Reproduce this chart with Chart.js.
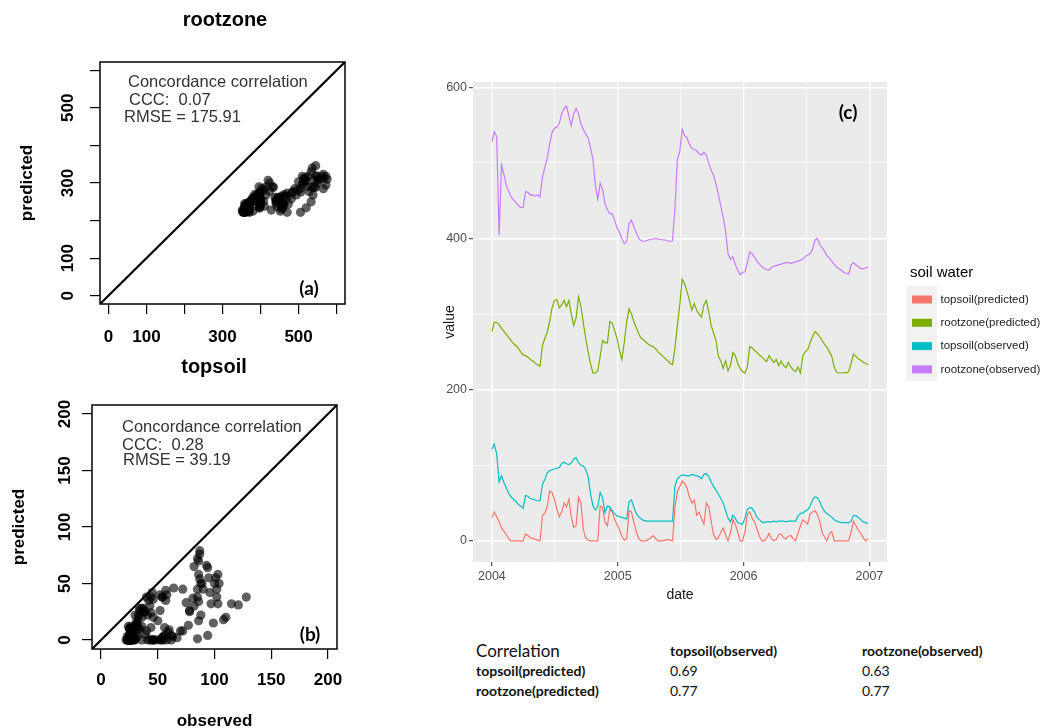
<!DOCTYPE html>
<html>
<head>
<meta charset="utf-8">
<script src="https://cdn.jsdelivr.net/npm/chart.js"></script>
<style>
  html, body { margin: 0; padding: 0; background: #fff; }
  body { width: 1054px; height: 728px; position: relative; overflow: hidden; }
  canvas { position: absolute; }
  #rootCanvas { left: 0; top: 0; }
  #topCanvas { left: 0; top: 345px; }
  #seriesCanvas { left: 440px; top: 60px; }
  #corrTable { position: absolute; left: 476px; top: 641px; border-collapse: collapse;
               font-family: Lato, "Open Sans", sans-serif; color: #111; }
  #corrTable td { padding: 0; height: 20px; line-height: 20px; font-size: 14px; white-space: nowrap; }
  #corrTable td:nth-child(1) { width: 194px; }
  #corrTable td:nth-child(2) { width: 192px; }
  #corrTable td.b { font-weight: bold; }
  #corrTable td.big { font-size: 17px; }
</style>
</head>
<body>
<canvas id="rootCanvas" width="450" height="350"></canvas>
<canvas id="topCanvas" width="429" height="390"></canvas>
<canvas id="seriesCanvas" width="614" height="550"></canvas>
<table id="corrTable"></table>
<script>
// weekly samples starting 2004-01-01
const sampleStart = Date.UTC(2004, 0, 1);
const sampleStepDays = 7;

const seriesNames = ['topsoil(predicted)', 'rootzone(predicted)', 'topsoil(observed)', 'rootzone(observed)'];

const topPredicted = [
  31, 38, 32, 25, 17, 13, 8, 3, 0, 0,
  0, 0, 0, 0, 9, 7, 4, 3, 2, 1,
  0, 33, 37, 45, 66, 64, 55, 42, 32, 38,
  50, 45, 55, 32, 18, 20, 58, 50, 15, 4,
  1, 0, 0, 0, 0, 46, 44, 25, 20, 42,
  38, 28, 22, 15, 6, 1, 3, 40, 38, 24,
  12, 3, 0, 0, 0, 2, 4, 7, 3, 0,
  0, 0, 1, 2, 1, 0, 45, 65, 72, 79,
  76, 70, 58, 50, 54, 34, 38, 30, 22, 50,
  45, 26, 8, 2, 4, 11, 17, 8, 0, 10,
  28, 22, 12, 0, 0, 12, 35, 38, 30, 25,
  16, 6, 0, 0, 4, 10, 3, 0, 2, 8,
  9, 4, 3, 6, 7, 3, 0, 10, 20, 28,
  25, 22, 36, 38, 40, 35, 26, 11, 5, 0,
  10, 12, 0, 0, 0, 0, 0, 0, 0, 12,
  26, 20, 14, 10, 4, 0, 3
];
const rootPredicted = [
  277, 289, 289, 286, 281, 277, 273, 269, 265, 261,
  258, 255, 250, 246, 245, 243, 240, 238, 235, 233,
  231, 258, 268, 276, 290, 308, 318, 319, 308, 312,
  318, 310, 318, 300, 285, 295, 323, 310, 288, 268,
  250, 234, 222, 222, 225, 244, 265, 262, 262, 290,
  288, 278, 268, 252, 240, 262, 290, 307, 300, 290,
  282, 274, 268, 266, 263, 260, 258, 257, 254, 250,
  247, 244, 241, 238, 235, 233, 255, 285, 312, 346,
  340, 330, 318, 305, 314, 305, 300, 296, 312, 318,
  303, 285, 275, 265, 244, 238, 228, 238, 225, 232,
  249, 245, 235, 228, 224, 222, 230, 257, 255, 252,
  249, 246, 243, 240, 237, 245, 240, 236, 240, 232,
  238, 232, 229, 236, 230, 226, 224, 230, 222, 245,
  250, 253, 262, 270, 277, 274, 270, 265, 260, 256,
  250, 244, 230, 223, 222, 222, 223, 222, 224, 235,
  247, 244, 241, 239, 236, 235, 233
];
const topObserved = [
  121, 128, 115, 78, 86, 77, 70, 63, 58, 55,
  52, 48, 46, 43, 60, 59, 56, 55, 54, 53,
  53, 75, 81, 90, 93, 94, 95, 96, 97, 102,
  104, 102, 101, 103, 108, 110, 103, 100, 99, 94,
  85, 62, 46, 41, 45, 64, 57, 37, 46, 45,
  40, 36, 33, 32, 31, 30, 29, 52, 54, 44,
  36, 32, 29, 27, 26, 26, 26, 26, 26, 26,
  26, 26, 26, 26, 26, 26, 72, 82, 85, 87,
  87, 86, 86, 88, 87, 86, 85, 82, 88, 89,
  85, 78, 72, 67, 62, 56, 50, 40, 30, 25,
  34, 30, 24, 23, 22, 30, 42, 44, 43, 38,
  31, 28, 25, 24, 25, 25, 25, 26, 25, 26,
  26, 26, 25, 26, 26, 26, 26, 33, 36, 37,
  39, 41, 46, 54, 58, 57, 52, 44, 39, 36,
  34, 31, 28, 26, 25, 24, 24, 24, 24, 26,
  34, 33, 31, 28, 25, 24, 23
];
const rootObserved = [
  528, 541, 535, 404, 497, 485, 470, 462, 455, 451,
  447, 444, 441, 441, 462, 461, 457, 458, 456, 458,
  455, 481, 494, 506, 525, 540, 546, 547, 552, 565,
  572, 575, 562, 549, 565, 572, 565, 552, 544, 538,
  533, 520, 505, 470, 452, 473, 465, 446, 438, 433,
  433, 424, 414, 408, 400, 393, 396, 420, 424, 415,
  408, 400, 397, 396, 397, 398, 399, 399, 400, 399,
  399, 398, 398, 397, 396, 397, 440, 505, 515, 545,
  536, 533, 525, 519, 518, 516, 512, 510, 514, 510,
  500, 490, 484, 472, 458, 443, 428, 410, 380, 372,
  376, 366, 358, 352, 355, 356, 368, 382, 380, 375,
  370, 366, 363, 360, 359, 358, 362, 363, 364, 365,
  366, 367, 368, 368, 367, 368, 369, 370, 371, 373,
  376, 378, 380, 385, 398, 400, 392, 388, 383, 377,
  374, 370, 366, 362, 360, 358, 355, 354, 353, 365,
  368, 365, 363, 360, 360, 361, 362
];

// axis ticks
const rootTicks = [0, 100, 200, 300, 400, 500, 600];
const rootTickLabels = ['0', '100', '', '300', '', '500', ''];
const topTicks = [0, 50, 100, 150, 200];
const topTickLabels = ['0', '50', '100', '150', '200'];
const yearTicks = [2004, 2004.5, 2005, 2005.5, 2006, 2006.5, 2007];
const yearTickLabels = ['2004', '', '2005', '', '2006', '', '2007'];
const valueTicks = [0, 100, 200, 300, 400, 500, 600];
const valueTickLabels = ['0', '', '200', '', '400', '', '600'];

// fit statistics
const cccValues = ['0.07', '0.28'];
const rmseValues = ['175.91', '39.19'];

// correlation table
const corrCols = ['topsoil(observed)', 'rootzone(observed)'];
const corrRows = ['topsoil(predicted)', 'rootzone(predicted)'];
const corrValues = [[0.69, 0.63], [0.77, 0.77]];

const SANS = '"Liberation Sans", Arial, Helvetica, sans-serif';
const seriesColors = ['#F8766D', '#7CAE00', '#00BFC4', '#C77CFF'];

function sampleYear(i) {
  const t = sampleStart + i * sampleStepDays * 86400000;
  const y = new Date(t).getUTCFullYear();
  const y0 = Date.UTC(y, 0, 1), y1 = Date.UTC(y + 1, 0, 1);
  return y + (t - y0) / (y1 - y0);
}

function noPadding(s) {
  s.paddingLeft = 0; s.paddingRight = 0; s.paddingTop = 0; s.paddingBottom = 0;
}

const framePlugin = {
  id: 'frame',
  afterDraw(chart) {
    const {ctx, chartArea: a} = chart;
    ctx.save();
    ctx.strokeStyle = '#000';
    ctx.lineWidth = 1.5;
    ctx.strokeRect(a.left, a.top, a.width, a.height);
    ctx.restore();
  }
};

// R draws y tick labels parallel to the axis
const rotatedYLabels = {
  id: 'rotatedYLabels',
  afterDraw(chart, args, opts) {
    const {ctx, chartArea: a} = chart;
    const y = chart.scales.y;
    ctx.save();
    ctx.font = 'bold 17px ' + SANS;
    ctx.fillStyle = '#000';
    ctx.textAlign = 'center';
    ctx.textBaseline = 'middle';
    y.ticks.forEach((t, i) => {
      const label = opts.labels[i];
      if (!label) return;
      ctx.save();
      ctx.translate(a.left - opts.offset, y.getPixelForValue(t.value));
      ctx.rotate(-Math.PI / 2);
      ctx.fillText(label, 0, 0);
      ctx.restore();
    });
    ctx.restore();
  }
};

// free text placed relative to the plot area
const panelNotes = {
  id: 'panelNotes',
  afterDraw(chart, args, opts) {
    const {ctx, chartArea: a} = chart;
    ctx.save();
    ctx.textBaseline = 'middle';
    opts.lines.forEach(l => {
      ctx.font = l.font;
      ctx.fillStyle = l.color || '#000';
      ctx.textAlign = l.align || 'left';
      ctx.fillText(l.text, a.left + l.dx, a.top + l.dy);
    });
    ctx.restore();
  }
};

const noteFont = '16.5px ' + SANS;
const titleFont = 'bold 20px ' + SANS;
const letterFont = 'bold 19px Lato, "Open Sans", sans-serif';

function scatterPanel(id, c) {
  return new Chart(document.getElementById(id), {
    type: 'scatter',
    data: {
      datasets: [
        {
          type: 'line',
          data: [{x: c.range[0], y: c.range[0]}, {x: c.range[1], y: c.range[1]}],
          borderColor: '#000', borderWidth: 2.2, pointRadius: 0, order: 0
        },
        {
          data: c.observed.map((v, i) => ({x: v, y: c.predicted[i]})),
          backgroundColor: 'rgba(0,0,0,0.62)', borderWidth: 0, pointRadius: 4.6, order: 1
        }
      ]
    },
    options: {
      responsive: false,
      animation: false,
      events: [],
      layout: { padding: { left: 0, top: c.padTop, right: c.padRight, bottom: 0 } },
      plugins: {
        legend: { display: false },
        tooltip: { enabled: false },
        rotatedYLabels: { labels: c.tickLabels, offset: c.yLabelOffset },
        panelNotes: { lines: c.notes }
      },
      scales: {
        x: {
          type: 'linear', min: c.range[0], max: c.range[1],
          afterBuildTicks: s => { s.ticks = c.ticks.map(v => ({value: v})); },
          afterFit: s => { s.height = c.xHeight; noPadding(s); },
          border: { display: false },
          grid: { drawOnChartArea: false, tickLength: 10, color: '#000', lineWidth: 1.2 },
          ticks: {
            autoSkip: false, maxRotation: 0, minRotation: 0, padding: c.xPad, color: '#000',
            font: { family: SANS, size: 17, weight: 'bold' },
            callback: (v, i) => c.tickLabels[i]
          },
          title: c.xTitle ? {
            display: true, text: c.xTitle, color: '#000',
            font: { family: SANS, size: 17, weight: 'bold' },
            padding: { top: 0, bottom: c.xTitlePad }
          } : { display: false }
        },
        y: {
          type: 'linear', min: c.range[0], max: c.range[1],
          afterBuildTicks: s => { s.ticks = c.ticks.map(v => ({value: v})); },
          afterFit: s => { s.width = c.yWidth; noPadding(s); },
          border: { display: false },
          grid: { drawOnChartArea: false, tickLength: 10, color: '#000', lineWidth: 1.2 },
          ticks: { display: false },
          title: {
            display: true, text: 'predicted', color: '#000',
            font: { family: SANS, size: 17, weight: 'bold' },
            padding: { top: c.yTitlePad, bottom: 0 }
          }
        }
      }
    },
    plugins: [framePlugin, rotatedYLabels, panelNotes]
  });
}

scatterPanel('rootCanvas', {
  observed: rootObserved, predicted: rootPredicted,
  range: [-22, 622], ticks: rootTicks, tickLabels: rootTickLabels,
  padTop: 62, padRight: 105, yWidth: 100, xHeight: 46, xPad: 13,
  yTitlePad: 17, yLabelOffset: 32, xTitle: null,
  notes: [
    { text: 'rootzone', dx: 125, dy: -42, font: titleFont, align: 'center' },
    { text: 'Concordance correlation', dx: 28, dy: 20, font: noteFont, color: '#333' },
    { text: 'CCC:  ' + cccValues[0], dx: 29, dy: 38, font: noteFont, color: '#333' },
    { text: 'RMSE = ' + rmseValues[0], dx: 24, dy: 55, font: noteFont, color: '#333' },
    { text: '(a)', dx: 209, dy: 227, font: letterFont, align: 'center' }
  ]
});

scatterPanel('topCanvas', {
  observed: topObserved, predicted: topPredicted,
  range: [-8, 208], ticks: topTicks, tickLabels: topTickLabels,
  padTop: 60, padRight: 92, yWidth: 92, xHeight: 86, xPad: 11,
  yTitlePad: 9, yLabelOffset: 27, xTitle: 'observed', xTitlePad: 3,
  notes: [
    { text: 'topsoil', dx: 122, dy: -38, font: titleFont, align: 'center' },
    { text: 'Concordance correlation', dx: 30, dy: 22, font: noteFont, color: '#333' },
    { text: 'CCC:  ' + cccValues[1], dx: 30, dy: 40, font: noteFont, color: '#333' },
    { text: 'RMSE = ' + rmseValues[1], dx: 31, dy: 55, font: noteFont, color: '#333' },
    { text: '(b)', dx: 218, dy: 230, font: letterFont, align: 'center' }
  ]
});

// ggplot style panel (c)
const panelBackground = {
  id: 'panelBackground',
  beforeDraw(chart) {
    const {ctx, chartArea: a} = chart;
    ctx.save();
    ctx.fillStyle = '#EBEBEB';
    ctx.fillRect(a.left, a.top, a.width, a.height);
    ctx.restore();
  }
};

const ggLegend = {
  id: 'ggLegend',
  afterDraw(chart, args, opts) {
    const {ctx, chartArea: a} = chart;
    const x0 = a.right;
    ctx.save();
    ctx.textBaseline = 'middle';
    ctx.textAlign = 'left';
    ctx.fillStyle = '#000';
    ctx.font = '15px ' + SANS;
    ctx.fillText(opts.title, x0 + 23, a.top + 191);
    ctx.fillStyle = '#F2F2F2';
    ctx.fillRect(x0 + 19, a.top + 204, 31, 95);
    chart.data.datasets.forEach((ds, i) => {
      const yc = a.top + 217.5 + i * 23.3;
      ctx.fillStyle = ds.borderColor;
      ctx.fillRect(x0 + 25, yc - 4, 20, 8);
      ctx.fillStyle = '#222';
      ctx.font = '11.5px ' + SANS;
      ctx.fillText(ds.label, x0 + 53.5, yc);
    });
    ctx.restore();
  }
};

const seriesValues = [topPredicted, rootPredicted, topObserved, rootObserved];
const tickFont = { family: SANS, size: 12.5 };

new Chart(document.getElementById('seriesCanvas'), {
  type: 'line',
  data: {
    datasets: seriesValues.map((vals, k) => ({
      label: seriesNames[k],
      data: vals.map((v, i) => ({x: sampleYear(i), y: v})),
      borderColor: seriesColors[k],
      borderWidth: 1.2,
      pointRadius: 0,
      fill: false,
      tension: 0,
      order: 4 - k
    }))
  },
  options: {
    responsive: false,
    animation: false,
    events: [],
    layout: { padding: { left: 0, top: 22, right: 167, bottom: 0 } },
    plugins: {
      legend: { display: false },
      tooltip: { enabled: false },
      ggLegend: { title: 'soil water' },
      panelNotes: { lines: [{ text: '(c)', dx: 375, dy: 31, font: letterFont, align: 'center' }] }
    },
    scales: {
      x: {
        type: 'linear', min: 2003.85, max: 2007.14,
        afterBuildTicks: s => { s.ticks = yearTicks.map(v => ({value: v})); },
        afterFit: s => { s.height = 48; noPadding(s); },
        border: { display: false },
        grid: {
          color: '#FFFFFF',
          lineWidth: ctx => (yearTickLabels[ctx.index] ? 1.4 : 0.7),
          tickColor: ctx => (yearTickLabels[ctx.index] ? '#333333' : 'rgba(0,0,0,0)'),
          tickWidth: 1,
          tickLength: 4
        },
        ticks: {
          autoSkip: false, maxRotation: 0, minRotation: 0, padding: 3, color: '#4D4D4D', font: tickFont,
          callback: (v, i) => yearTickLabels[i]
        },
        title: { display: true, text: 'date', color: '#1a1a1a', font: { family: SANS, size: 14 }, padding: { top: 0, bottom: 6.6 } }
      },
      y: {
        type: 'linear', min: -28, max: 607,
        afterBuildTicks: s => { s.ticks = valueTicks.map(v => ({value: v})); },
        afterFit: s => { s.width = 33; noPadding(s); },
        border: { display: false },
        grid: {
          color: '#FFFFFF',
          lineWidth: ctx => (valueTickLabels[ctx.index] ? 1.4 : 0.7),
          tickColor: ctx => (valueTickLabels[ctx.index] ? '#333333' : 'rgba(0,0,0,0)'),
          tickWidth: 1,
          tickLength: 4
        },
        ticks: {
          autoSkip: false, padding: 2, color: '#4D4D4D', font: tickFont,
          callback: (v, i) => valueTickLabels[i]
        },
        title: { display: true, text: 'value', color: '#1a1a1a', font: { family: SANS, size: 14 }, padding: { top: 2, bottom: 0 } }
      }
    }
  },
  plugins: [panelBackground, ggLegend, panelNotes]
});

// correlation table below panel (c)
const table = document.getElementById('corrTable');
const head = table.insertRow();
[['Correlation', 'big'], [corrCols[0], 'b'], [corrCols[1], 'b']].forEach(([t, cls]) => {
  const td = head.insertCell(); td.textContent = t; td.className = cls;
});
corrRows.forEach((name, r) => {
  const tr = table.insertRow();
  const th = tr.insertCell(); th.textContent = name; th.className = 'b';
  corrValues[r].forEach(v => { const td = tr.insertCell(); td.textContent = v.toFixed(2); });
});
</script>
</body>
</html>
